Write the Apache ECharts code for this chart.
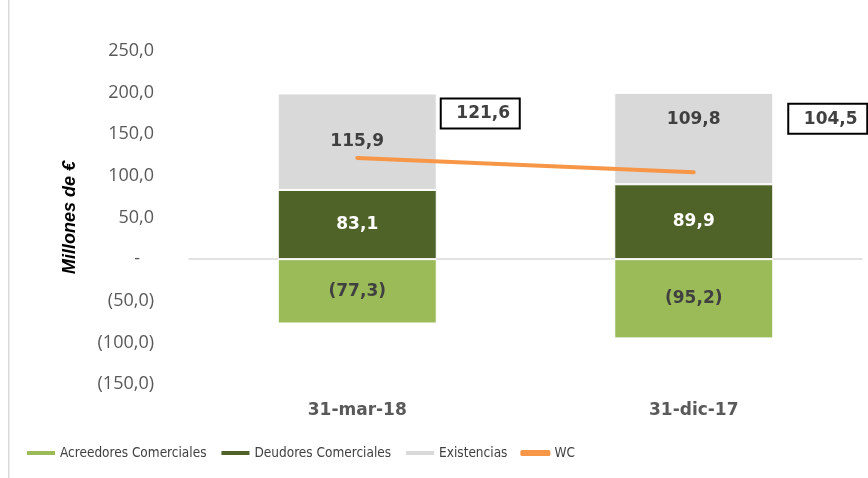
<!DOCTYPE html>
<html><head><meta charset="utf-8">
<script src="https://cdn.jsdelivr.net/npm/echarts@6/dist/echarts.min.js"></script>
<style>html,body{margin:0;padding:0;background:#fff}#c{width:868px;height:478px}</style>
</head><body><div id="c"></div>
<script>
var categories = ['31-mar-18', '31-dic-17'];
var acreedores = [-77.3, -95.2];
var deudores = [83.1, 89.9];
var existencias = [115.9, 109.8];
var wc = [121.6, 104.5];
var seriesNames = ['Acreedores Comerciales', 'Deudores Comerciales', 'Existencias', 'WC'];

function fmt(v) {
  if (Math.abs(v) < 1e-9) return '-';
  var s = Math.abs(v).toFixed(1).replace('.', ',');
  return v < 0 ? '(' + s + ')' : s;
}

var existLabelOffsets = [[0, 0], [0, -19]];
var wcLabelOffsets = [[123, -25], [134, -34]];

var chart = echarts.init(document.getElementById('c'), null, {renderer: 'canvas'});
var labelFont = {fontFamily: 'DejaVu Sans', fontWeight: 'bold', fontSize: 17};

chart.setOption({
  animation: false,
  backgroundColor: '#fff',
  grid: {left: 189, right: 6, top: 51, bottom: 94, containLabel: false},
  legend: {
    left: 20, top: 441,
    itemWidth: 30, itemHeight: 6, itemGap: 13,
    textStyle: {fontFamily: '"DejaVu Sans Condensed", Roboto, sans-serif', fontSize: 13.5, color: '#404040', padding: [0, 0, 0, -1]},
    data: [
      {name: seriesNames[0], icon: 'rect'},
      {name: seriesNames[1], icon: 'rect'},
      {name: seriesNames[2], icon: 'rect'},
      {name: seriesNames[3], icon: 'roundRect'}
    ]
  },
  graphic: [{
    type: 'rect', shape: {x: 8, y: 0, width: 1.5, height: 478},
    style: {fill: '#D9D9D9'}, silent: true
  }],
  xAxis: {
    type: 'category', data: categories,
    axisLine: {show: true, onZero: true, lineStyle: {color: '#D9D9D9', width: 1.5}},
    axisTick: {show: false},
    axisLabel: {
      show: true, color: '#595959', fontFamily: 'DejaVu Sans', fontWeight: 'bold', fontSize: 17,
      margin: 18
    },
    position: 'bottom'
  },
  yAxis: {
    type: 'value', min: -150, max: 250, interval: 50,
    name: 'Millones de €', nameLocation: 'middle', nameGap: 110, nameRotate: 90,
    nameTextStyle: {fontFamily: 'Liberation Sans', fontWeight: 'bold', fontStyle: 'italic', fontSize: 18, color: '#000'},
    axisLine: {show: false}, axisTick: {show: false},
    splitLine: {show: false},
    axisLabel: {
      color: '#595959', fontFamily: 'Open Sans', fontSize: 18, margin: 35,
      formatter: function (v) { return v === 0 ? '-   ' : fmt(v); }
    }
  },
  series: [
    {
      name: seriesNames[0], type: 'bar', stack: 'wc', barWidth: 159,
      itemStyle: {color: '#9BBB59', borderColor: '#fff', borderWidth: 1},
      label: Object.assign({show: true, position: 'inside', color: '#404040', formatter: function (p) { return fmt(p.value); }}, labelFont),
      data: acreedores
    },
    {
      name: seriesNames[1], type: 'bar', stack: 'wc', barWidth: 159,
      itemStyle: {color: '#4F6228', borderColor: '#fff', borderWidth: 1},
      label: Object.assign({show: true, position: 'inside', color: '#ffffff', formatter: function (p) { return fmt(p.value); }}, labelFont),
      data: deudores
    },
    {
      name: seriesNames[2], type: 'bar', stack: 'wc', barWidth: 159,
      itemStyle: {color: '#D9D9D9', borderColor: '#fff', borderWidth: 1},
      label: Object.assign({show: true, position: 'inside', color: '#404040', formatter: function (p) { return fmt(p.value); }}, labelFont),
      data: existencias.map(function (v, i) { return {value: v, label: {offset: existLabelOffsets[i]}}; })
    },
    {
      name: seriesNames[3], type: 'line', z: 5,
      symbol: 'circle', symbolSize: 1, showSymbol: true,
      lineStyle: {color: '#F79646', width: 4, cap: 'round'},
      itemStyle: {color: '#F79646'},
      label: Object.assign({
        show: true, position: 'top', color: '#404040',
        backgroundColor: '#fff', borderColor: '#000', borderWidth: 2,
        padding: [6, 8, 5, 14], width: 55, align: 'center',
        formatter: function (p) { return fmt(p.value); }
      }, labelFont),
      data: wc.map(function (v, i) { return {value: v, label: {offset: wcLabelOffsets[i]}}; })
    }
  ]
});
</script></body></html>
